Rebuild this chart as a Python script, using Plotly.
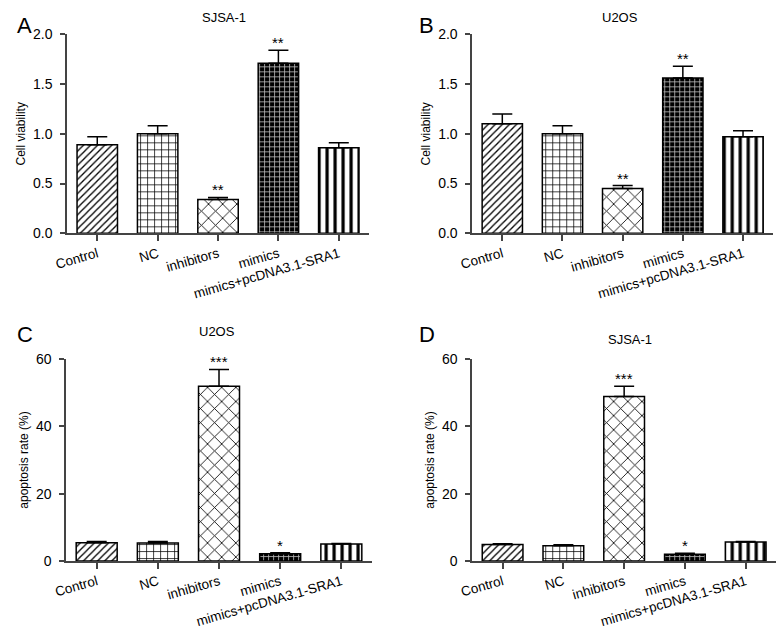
import plotly.graph_objects as go

categories = ["Control", "NC", "inhibitors", "mimics", "mimics+pcDNA3.1-SRA1"]

# Panel A: SJSA-1 cell viability
a_values = [0.89, 1.00, 0.34, 1.71, 0.86]
a_errors = [0.08, 0.08, 0.02, 0.13, 0.05]
a_marks = ["", "", "**", "**", ""]

# Panel B: U2OS cell viability
b_values = [1.10, 1.00, 0.45, 1.56, 0.97]
b_errors = [0.10, 0.08, 0.03, 0.12, 0.06]
b_marks = ["", "", "**", "**", ""]

# Panel C: U2OS apoptosis rate
c_values = [5.4, 5.3, 51.9, 2.1, 5.0]
c_errors = [0.4, 0.5, 5.0, 0.3, 0.2]
c_marks = ["", "", "***", "*", ""]

# Panel D: SJSA-1 apoptosis rate
d_values = [4.9, 4.5, 48.9, 2.0, 5.6]
d_errors = [0.2, 0.3, 3.0, 0.3, 0.2]
d_marks = ["", "", "***", "*", ""]

viability_ticks = [0, 0.5, 1.0, 1.5, 2.0]
viability_ticktext = ["0.0", "0.5", "1.0", "1.5", "2.0"]
apoptosis_ticks = [0, 20, 40, 60]

FONT = "Liberation Sans, Arial, sans-serif"

patterns = [
    dict(shape="/", fgcolor="black", bgcolor="white", size=5, solidity=0.26, fgopacity=1, fillmode="replace"),
    dict(shape="+", fgcolor="black", bgcolor="white", size=7, solidity=0.2, fgopacity=1, fillmode="replace"),
    dict(shape="x", fgcolor="black", bgcolor="white", size=10, solidity=0.16, fgopacity=1, fillmode="replace"),
    dict(shape="+", fgcolor="#b8b8b8", bgcolor="black", size=5, solidity=0.3, fgopacity=1, fillmode="replace"),
    dict(shape="|", fgcolor="black", bgcolor="white", size=8, solidity=0.4, fgopacity=1, fillmode="replace"),
]

fig = go.Figure()

panels = [
    ("x", "y", a_values, a_errors, a_marks),
    ("x2", "y2", b_values, b_errors, b_marks),
    ("x3", "y3", c_values, c_errors, c_marks),
    ("x4", "y4", d_values, d_errors, d_marks),
]

for xa, ya, vals, errs, marks in panels:
    for i, cat in enumerate(categories):
        fig.add_trace(go.Bar(
            x=[cat], y=[vals[i]], xaxis=xa, yaxis=ya,
            marker=dict(color="white", pattern=patterns[i],
                        line=dict(color="black", width=1.5)),
            error_y=dict(type="data", array=[errs[i]], arrayminus=[0],
                         symmetric=False, color="black", thickness=1.5, width=10),
            width=0.67, showlegend=False, hoverinfo="skip",
        ))
        if marks[i]:
            fig.add_annotation(
                x=cat, y=vals[i] + errs[i], xref=xa, yref=ya,
                text=marks[i], showarrow=False, yanchor="bottom",
                yshift=-3, font=dict(family=FONT, size=15, color="black"),
            )


def xaxis_cfg(domain, anchor):
    return dict(
        domain=domain, anchor=anchor,
        showline=True, linecolor="#444444", linewidth=1.5,
        ticks="outside", ticklen=6, tickwidth=1.5, tickcolor="#444444",
        tickangle=-16, tickfont=dict(family=FONT, size=13.5, color="black"),
        range=[-0.5, 4.5], showgrid=False, zeroline=False,
        type="category", categoryorder="array", categoryarray=categories,
    )


def yaxis_cfg(domain, anchor, rng, tickvals, ticktext, title):
    return dict(
        domain=domain, anchor=anchor, range=rng,
        tickvals=tickvals, ticktext=ticktext,
        showline=True, linecolor="#444444", linewidth=1.5,
        ticks="outside", ticklen=5, tickwidth=1.5, tickcolor="#444444",
        ticklabelstandoff=5,
        tickfont=dict(family=FONT, size=14, color="black"),
        showgrid=False, zeroline=False,
        title=dict(text=title, standoff=5,
                   font=dict(family=FONT, size=12, color="black")),
    )


yA = [1 - 231 / 644, 1 - 27 / 644]
yC = [1 - 567 / 644, 1 - 360 / 644]

fig.update_layout(
    width=780, height=644,
    margin=dict(l=0, r=0, t=0, b=0),
    paper_bgcolor="white", plot_bgcolor="white",
    bargap=0.33,
    xaxis=xaxis_cfg([55 / 780, 362 / 780], "y"),
    yaxis=yaxis_cfg(yA, "x", [0, 2.0], viability_ticks, viability_ticktext, "Cell viability"),
    xaxis2=xaxis_cfg([467 / 780, 773 / 780], "y2"),
    yaxis2=yaxis_cfg(yA, "x2", [0, 2.0], viability_ticks, viability_ticktext, "Cell viability"),
    xaxis3=xaxis_cfg([54 / 780, 365 / 780], "y3"),
    yaxis3=yaxis_cfg(yC, "x3", [0, 60], apoptosis_ticks, [str(v) for v in apoptosis_ticks], "apoptosis rate (%)"),
    xaxis4=xaxis_cfg([467 / 780, 776 / 780], "y4"),
    yaxis4=yaxis_cfg(yC, "x4", [0, 60], apoptosis_ticks, [str(v) for v in apoptosis_ticks], "apoptosis rate (%)"),
)

# Panel letters and titles
labels = [("A", 2, 3), ("B", 411, 3), ("C", 2, 320), ("D", 411, 320)]
for txt, px, py in labels:
    fig.add_annotation(text=txt, x=px / 780, y=1 - py / 644, xref="paper", yref="paper",
                       xanchor="left", yanchor="top", showarrow=False,
                       font=dict(family=FONT, size=22, color="black"))

titles = [("SJSA-1", 215, 10), ("U2OS", 617, 10), ("U2OS", 207, 332), ("SJSA-1", 627, 340)]
for txt, px, py in titles:
    fig.add_annotation(text=txt, x=px / 780, y=1 - py / 644, xref="paper", yref="paper",
                       xanchor="center", yanchor="middle", showarrow=False,
                       font=dict(family=FONT, size=13, color="black"))

fig.write_html("out.html", config={"displayModeBar": False},
               post_script="document.body.style.margin='0';")
